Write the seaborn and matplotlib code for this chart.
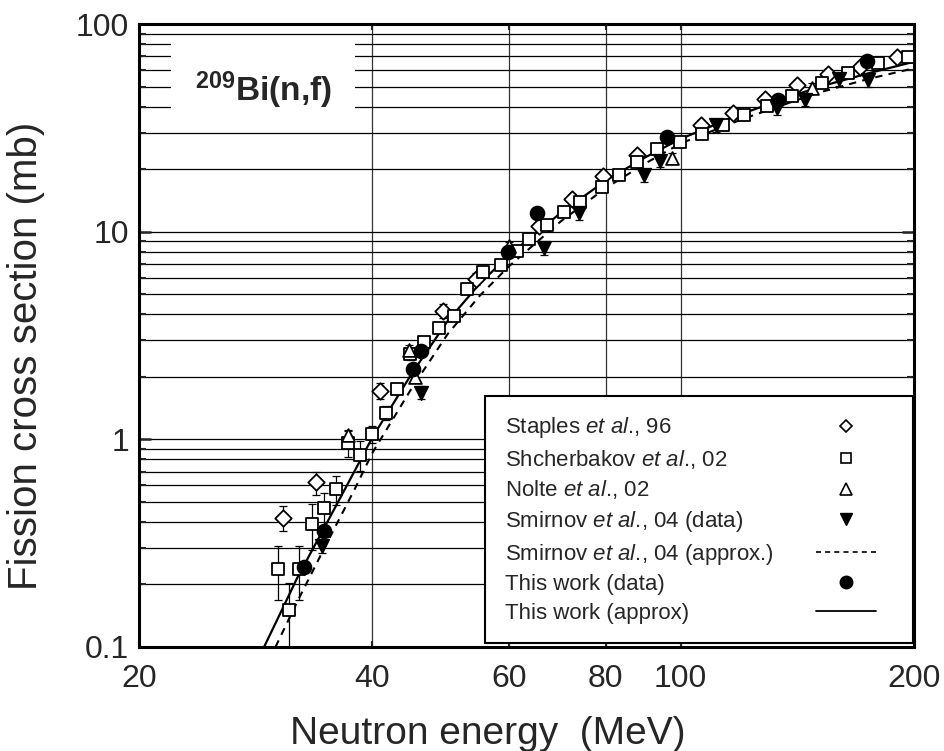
import numpy as np
import pandas as pd
import matplotlib
matplotlib.use("Agg")
import matplotlib.pyplot as plt
from matplotlib.lines import Line2D
from matplotlib.patches import Rectangle
from matplotlib.offsetbox import DrawingArea
from matplotlib.ticker import FixedLocator, FixedFormatter, LogLocator, NullFormatter, NullLocator
import seaborn as sns

# ---------------- data ----------------
staples_E = [30.7, 33.8, 40.9, 49.3, 54.4, 65.7, 72.3, 79.5, 87.7, 106.1, 116.7,
             128.5, 141.2, 155.1, 170.4, 190.0]
staples_sig = [0.42, 0.62, 1.71, 4.15, 5.92, 10.65, 14.3, 18.5, 23.4, 32.6, 37.4,
               43.4, 50.9, 57.4, 62.3, 69.6]
staples_err = [0.058, 0.08, 0.15, 0.33, 0.4, 0.7, 0.9, 1.1, 1.4, 1.9, 2.1,
               2.4, 2.8, 3.1, 3.3, 3.7]

shch_E = [30.2, 31.2, 32.2, 33.4, 34.7, 35.9, 37.2, 38.6, 40.0, 41.7,
          43.0, 44.8, 46.7, 48.8, 51.0, 53.0, 55.5, 58.6, 61.4, 63.8,
          67.3, 70.7, 74.1, 79.2, 83.3, 87.7, 93.1, 99.8, 106.4, 113.5,
          120.7, 129.3, 139.3, 152.1, 164.5, 179.9, 196.3]
shch_sig = [0.238, 0.151, 0.237, 0.392, 0.466, 0.577, 0.958, 0.841, 1.06, 1.34,
            1.75, 2.57, 2.93, 3.45, 3.93, 5.28, 6.42, 6.91, 8.07, 9.22,
            10.8, 12.5, 13.9, 16.5, 18.7, 21.7, 24.9, 27.1, 29.5, 32.6,
            36.5, 40.3, 45.0, 52.2, 58.3, 65.1, 69.6]
shch_err = [0.069, 0.053, 0.069, 0.098, 0.087, 0.092, 0.135, 0.14, 0.1, 0.1,
            0.1, 0.15, 0.15, 0.15, 0.18, 0.25, 0.3, 0.3, 0.35, 0.4,
            0.5, 0.5, 0.6, 0.7, 0.8, 0.9, 1.0, 1.1, 1.2, 1.3,
            1.4, 1.5, 1.6, 1.8, 2.0, 2.2, 2.4]

nolte_E = [37.2, 44.6, 45.4, 60.0, 97.4, 147.6]
nolte_sig = [1.05, 2.7, 2.0, 8.5, 22.6, 49.0]
nolte_err = [0.06, 0.14, 0.1, 0.45, 1.4, 2.8]

smirnov_E = [34.4, 46.2, 66.6, 73.9, 89.7, 94.0, 111.1, 133.0, 144.7, 160.2, 174.3]
smirnov_sig = [0.308, 1.68, 8.32, 12.3, 18.7, 21.9, 32.6, 39.3, 43.1, 54.2, 53.5]
smirnov_err = [0.025, 0.12, 0.6, 0.9, 1.3, 1.5, 2.3, 2.8, 3.0, 3.8, 3.8]

smirnov_approx_E = [30, 32, 35, 38, 40, 45, 50, 55, 60, 70, 80, 90, 100, 120, 150, 175, 200]
smirnov_approx_sig = [0.10, 0.165, 0.32, 0.58, 0.86, 1.77, 3.2, 4.9, 6.8, 11.2, 16.2,
                      21.3, 26.6, 34.8, 46.5, 54.5, 61.2]

this_E = [32.7, 34.7, 45.2, 46.2, 59.9, 65.3, 95.9, 133.7, 174.1]
this_sig = [0.244, 0.363, 2.18, 2.67, 8.01, 12.3, 28.7, 43.1, 66.0]

this_approx_E = [29, 30, 32, 35, 38, 40, 45, 50, 55, 60, 70, 80, 90, 100, 120, 150, 175, 200]
this_approx_sig = [0.10, 0.13, 0.215, 0.40, 0.71, 1.02, 2.08, 3.7, 5.6, 7.7, 12.3, 17.6,
                   22.8, 28.0, 37.0, 49.5, 58.0, 65.8]

x_ticks = [20, 40, 60, 80, 100, 200]
x_tick_labels = ["20", "40", "60", "80", "100", "200"]
y_ticks = [0.1, 1, 10, 100]
y_tick_labels = ["0.1", "1", "10", "100"]

legend_labels = [r"Staples $\mathit{et\ al}$., 96",
                 r"Shcherbakov $\mathit{et\ al}$., 02",
                 r"Nolte $\mathit{et\ al}$., 02",
                 r"Smirnov $\mathit{et\ al}$., 04 (data)",
                 r"Smirnov $\mathit{et\ al}$., 04 (approx.)",
                 "This work (data)",
                 "This work (approx)"]

# ---------------- style ----------------
sns.set_style("ticks")
plt.rcParams['font.family'] = ['Liberation Sans', 'DejaVu Sans']
plt.rcParams['mathtext.fontset'] = 'custom'
plt.rcParams['mathtext.rm'] = 'Liberation Sans'
plt.rcParams['mathtext.it'] = 'Liberation Sans:italic'
plt.rcParams['mathtext.bf'] = 'Liberation Sans:bold'

fig = plt.figure(figsize=(9.44, 7.51), dpi=100)
ax = fig.add_axes([139/944, 1 - 647/751, 775/944, 623/751])
ax.set_xscale('log')
ax.set_yscale('log')

# curves
sns.lineplot(x=this_approx_E, y=this_approx_sig, ax=ax, color='black', lw=1.6,
             sort=False, estimator=None, zorder=2)
sns.lineplot(x=smirnov_approx_E, y=smirnov_approx_sig, ax=ax, color='black', lw=1.5,
             sort=False, estimator=None, zorder=2, dashes=False, linestyle=(0, (3.5, 3)))

# error bars
eb_kw = dict(fmt='none', ecolor='black', elinewidth=0.9, capsize=3, capthick=0.9, zorder=3)
ax.errorbar(staples_E, staples_sig, yerr=staples_err, **eb_kw)
ax.errorbar(shch_E, shch_sig, yerr=shch_err, **eb_kw)
ax.errorbar(nolte_E, nolte_sig, yerr=nolte_err, **eb_kw)
ax.errorbar(smirnov_E, smirnov_sig, yerr=smirnov_err, **eb_kw)

# markers
sns.scatterplot(x=staples_E, y=staples_sig, ax=ax, marker='D', s=70, color='white',
                edgecolor='black', linewidth=1.3, zorder=4)
sns.scatterplot(x=shch_E, y=shch_sig, ax=ax, marker='s', s=72, color='white',
                edgecolor='black', linewidth=1.3, zorder=4)
sns.scatterplot(x=nolte_E, y=nolte_sig, ax=ax, marker='^', s=85, color='white',
                edgecolor='black', linewidth=1.3, zorder=4)
sns.scatterplot(x=smirnov_E, y=smirnov_sig, ax=ax, marker='v', s=100, color='black',
                edgecolor='black', linewidth=1.0, zorder=5)
sns.scatterplot(x=this_E, y=this_sig, ax=ax, marker='o', s=105, color='black',
                edgecolor='black', linewidth=1.0, zorder=5)

ax.set_xlim(20, 200)
ax.set_ylim(0.1, 100)

# ticks
ax.xaxis.set_major_locator(FixedLocator(x_ticks))
ax.xaxis.set_major_formatter(FixedFormatter(x_tick_labels))
ax.xaxis.set_minor_locator(NullLocator())
ax.yaxis.set_major_locator(FixedLocator(y_ticks))
ax.yaxis.set_major_formatter(FixedFormatter(y_tick_labels))
ax.yaxis.set_minor_locator(LogLocator(base=10, subs=np.arange(2, 10), numticks=20))
ax.yaxis.set_minor_formatter(NullFormatter())

ax.tick_params(axis='x', which='major', direction='in', length=4, width=1.5,
               top=True, bottom=True, labelsize=23, pad=12)
ax.tick_params(axis='y', which='major', direction='in', length=8.5, width=1.8,
               left=True, right=True, labelsize=23, pad=7)
ax.tick_params(axis='y', which='minor', direction='in', length=5, width=1.5,
               left=True, right=True)

for sp in ax.spines.values():
    sp.set_linewidth(2.2)
    sp.set_color('black')
    sp.set_visible(True)

# grid
ax.set_axisbelow(True)
ax.yaxis.grid(True, which='both', color='black', lw=0.9)
ax.xaxis.grid(True, which='major', color='#333333', lw=0.9)

# labels
ax.set_xlabel('Neutron energy  (MeV)', fontsize=28)
ax.xaxis.set_label_coords(0.4497, -0.110)
ax.set_ylabel('Fission cross section (mb)', fontsize=29)
ax.yaxis.set_label_coords(-0.121, 0.468)

# reaction label box
ax.add_patch(Rectangle((0.041, 0.854), 0.238, 0.1235, transform=ax.transAxes,
                       facecolor='white', edgecolor='none', zorder=1))
ax.text(0.160, 0.876, r"$^{\mathbf{209}}$Bi(n,f)", transform=ax.transAxes,
        ha='center', va='baseline', fontsize=24, fontweight='bold', zorder=3)

# legend
handles = [
    Line2D([], [], ls='none', marker='D', mfc='white', mec='black', ms=6.5, mew=1.2),
    Line2D([], [], ls='none', marker='s', mfc='white', mec='black', ms=7, mew=1.2),
    Line2D([], [], ls='none', marker='^', mfc='white', mec='black', ms=8, mew=1.2),
    Line2D([], [], ls='none', marker='v', mfc='black', mec='black', ms=9),
    Line2D([], [], color='black', lw=1.2, ls=(0, (3, 2.5))),
    Line2D([], [], ls='none', marker='o', mfc='black', mec='black', ms=9),
    Line2D([], [], color='black', lw=1.3, ls='-'),
]
leg = ax.legend(handles, legend_labels, loc='lower right',
                bbox_to_anchor=(0.9987, 0.0064), markerfirst=False, frameon=True,
                fancybox=False, framealpha=1, edgecolor='black', fontsize=16,
                borderpad=0.87, labelspacing=0.34, handlelength=2.7,
                handletextpad=1.75, borderaxespad=0)
leg.get_frame().set_linewidth(1.5)
leg.set_zorder(10)

# left-align the legend texts, markers in a right-hand column with extra right margin
try:
    fig.canvas.draw()
    r = fig.canvas.get_renderer()
    widths = [t.get_window_extent(r).width for t in leg.get_texts()]
    maxw = max(widths)
    px2pt = 72.0 / fig.dpi
    col = leg._legend_handle_box.get_children()[0]
    for item, w in zip(col.get_children(), widths):
        ch = list(item.get_children())
        t, h = ch[0], ch[1]
        item._children = [t, DrawingArea((maxw - w + 38) * px2pt, 1), h,
                          DrawingArea(16 * px2pt, 1)]
        item.sep = 2 * px2pt
except Exception:
    pass

fig.savefig('out.png', dpi=100)
